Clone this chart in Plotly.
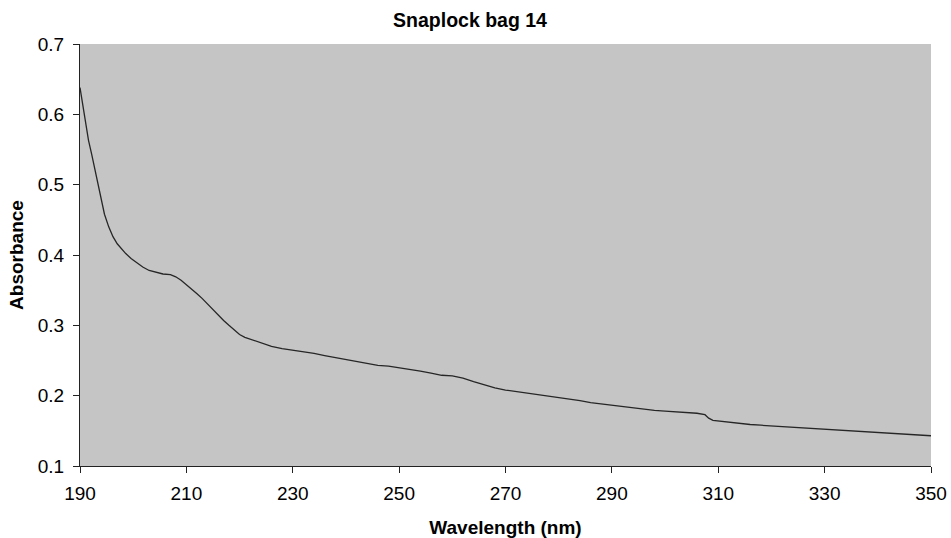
import plotly.graph_objects as go

# UV absorbance spectrum of a Snaplock bag sample
wavelength_nm = [
    190.0, 191.0, 191.6, 192.2, 192.8, 193.4, 194.0, 194.6, 195.4, 196.2,
    197.0, 197.8, 198.6, 199.6, 200.6, 201.8, 203.0, 204.3, 205.6, 207.0,
    208.0, 209.0, 210.0, 211.0, 212.0, 213.0, 214.0, 215.0, 216.0, 217.0,
    218.0, 219.0, 220.0, 221.0, 222.5, 224.0, 226.0, 228.0, 230.0, 232.0,
    234.0, 236.0, 238.0, 240.0, 242.0, 244.0, 246.0, 248.0, 250.0, 252.0,
    254.0, 256.0, 258.0, 260.0, 262.0, 264.0, 266.0, 268.0, 270.0, 272.0,
    274.0, 276.0, 278.0, 280.0, 282.0, 284.0, 286.0, 288.0, 290.0, 292.0,
    294.0, 296.0, 298.0, 300.0, 302.0, 304.0, 306.0, 307.5, 308.2, 309.0,
    310.0, 312.0, 314.0, 316.0, 318.0, 320.0, 322.0, 324.0, 326.0, 328.0,
    330.0, 332.0, 334.0, 336.0, 338.0, 340.0, 342.0, 344.0, 346.0, 348.0,
    350.0,
]
absorbance = [
    0.638, 0.590, 0.563, 0.543, 0.522, 0.500, 0.478, 0.458, 0.440, 0.426,
    0.416, 0.409, 0.402, 0.395, 0.389, 0.383, 0.378, 0.375, 0.373, 0.372,
    0.369, 0.364, 0.358, 0.352, 0.345, 0.338, 0.330, 0.322, 0.314, 0.307,
    0.300, 0.293, 0.287, 0.283, 0.279, 0.275, 0.270, 0.267, 0.265, 0.263,
    0.260, 0.257, 0.254, 0.251, 0.248, 0.246, 0.243, 0.242, 0.240, 0.237,
    0.235, 0.232, 0.229, 0.228, 0.225, 0.220, 0.215, 0.211, 0.208, 0.206,
    0.203, 0.201, 0.199, 0.197, 0.195, 0.193, 0.190, 0.188, 0.186, 0.184,
    0.182, 0.181, 0.179, 0.178, 0.177, 0.176, 0.175, 0.173, 0.168, 0.165,
    0.164, 0.162, 0.160, 0.159, 0.158, 0.157, 0.156, 0.155, 0.154, 0.153,
    0.152, 0.151, 0.150, 0.149, 0.148, 0.148, 0.147, 0.146, 0.145, 0.144,
    0.143,
]

x_ticks = [190, 210, 230, 250, 270, 290, 310, 330, 350]
y_ticks = [0.1, 0.2, 0.3, 0.4, 0.5, 0.6, 0.7]
y_tick_text = ["0.1", "0.2", "0.3", "0.4", "0.5", "0.6", "0.7"]

FONT = "Liberation Sans, Arial, sans-serif"

fig = go.Figure(
    go.Scatter(
        x=wavelength_nm,
        y=absorbance,
        mode="lines",
        line=dict(color="#262626", width=1.3),
        showlegend=False,
        hoverinfo="x+y",
    )
)

fig.update_layout(
    width=951,
    height=538,
    margin=dict(l=80, r=20, t=44, b=72, autoexpand=False),
    paper_bgcolor="white",
    plot_bgcolor="#c5c5c5",
    font=dict(family=FONT, size=19, color="black"),
    title=dict(
        text="Snaplock bag 14",
        font=dict(family=FONT, size=19.5, weight="bold", color="black"),
        x=470 / 951,
        xref="container",
        xanchor="center",
        y=1 - 20 / 538,
        yref="container",
        yanchor="middle",
    ),
)

fig.update_xaxes(
    range=[190, 350],
    tickmode="array",
    tickvals=x_ticks,
    ticks="outside",
    ticklen=6,
    tickcolor="#222",
    ticklabelstandoff=4,
    showline=True,
    linecolor="#222",
    linewidth=1,
    showgrid=False,
    zeroline=False,
    tickfont=dict(family=FONT, size=19),
    title=dict(
        text="Wavelength (nm)",
        font=dict(family=FONT, size=19, weight="bold"),
        standoff=20,
    ),
    automargin=False,
)

fig.update_yaxes(
    range=[0.1, 0.7],
    tickmode="array",
    tickvals=y_ticks,
    ticktext=y_tick_text,
    ticks="outside",
    ticklen=6,
    tickcolor="#222",
    ticklabelstandoff=5,
    showline=True,
    linecolor="#222",
    linewidth=1,
    showgrid=False,
    zeroline=False,
    tickfont=dict(family=FONT, size=19),
    title=dict(
        text="Absorbance",
        font=dict(family=FONT, size=19, weight="bold"),
        standoff=9,
    ),
    automargin=False,
)

fig.write_html("out.html")
